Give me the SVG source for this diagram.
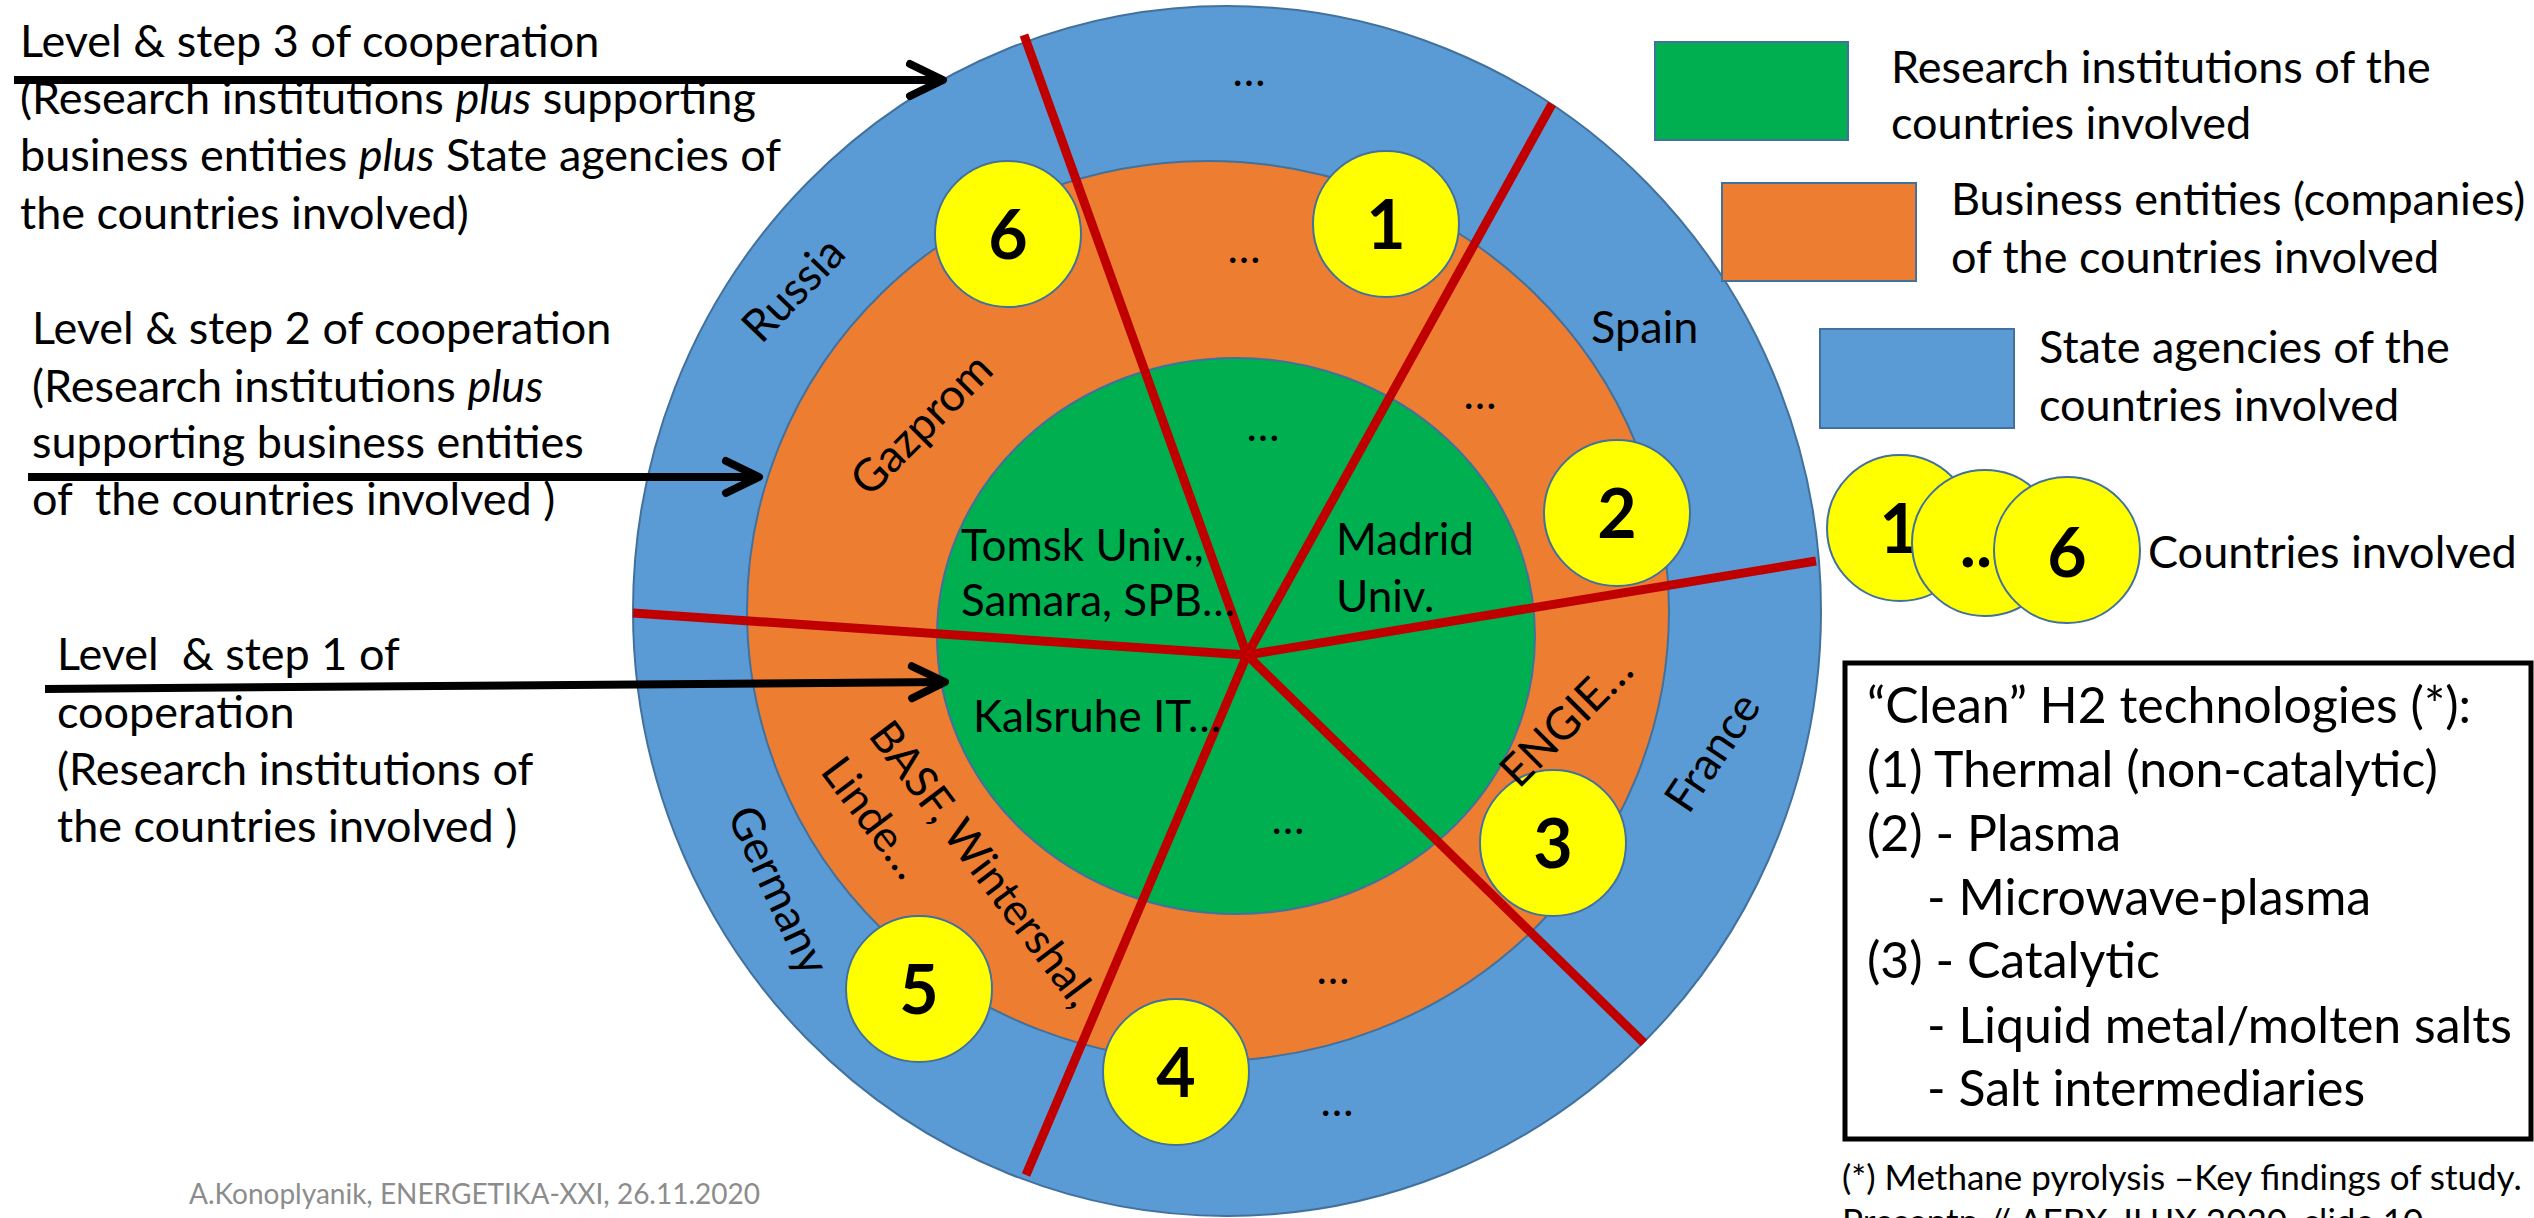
<svg xmlns="http://www.w3.org/2000/svg" width="2534" height="1218" viewBox="0 0 2534 1218">
<defs>
<style>
text{font-family:Lato,"Liberation Sans",sans-serif;fill:#000;white-space:pre}
.t{font-size:45px}
.in{font-size:44px}
.box{font-size:50px}
.dig{font-size:68px;font-weight:bold;text-anchor:middle}
.dots{font-size:44px;text-anchor:middle}
.ring{stroke:#41719C;stroke-width:2}
.yc{fill:#FFFF00;stroke:#41719C;stroke-width:2}
.red{stroke:#C00000;stroke-width:9;fill:none}
.arr{stroke:#000;stroke-width:8;fill:none;marker-end:url(#chev)}
</style>
<marker id="chev" markerUnits="userSpaceOnUse" viewBox="-40 -22 46 44" refX="0" refY="0" markerWidth="46" markerHeight="44" orient="auto">
<path d="M-33,-16 L0,0 L-33,16" fill="none" stroke="#000" stroke-width="8" stroke-linecap="round" stroke-linejoin="round"/>
</marker>
</defs>
<rect width="2534" height="1218" fill="#fff"/>

<g id="ring-state">
<ellipse class="ring" cx="1227" cy="611" rx="594" ry="605" fill="#5B9BD5"/>
</g>
<g id="ring-business">
<ellipse class="ring" cx="1208" cy="611" rx="461" ry="450" fill="#ED7D31"/>
</g>
<g id="ring-research">
<ellipse class="ring" cx="1236" cy="636" rx="299" ry="278" fill="#00B050"/>
</g>

<g id="dividers">
<line class="red" x1="1247" y1="655" x2="1024" y2="35"/>
<line class="red" x1="1247" y1="655" x2="1552" y2="104"/>
<line class="red" x1="1247" y1="655" x2="1816" y2="561"/>
<line class="red" x1="1247" y1="655" x2="633" y2="613"/>
<line class="red" x1="1247" y1="655" x2="1026" y2="1175"/>
<line class="red" x1="1247" y1="655" x2="1644" y2="1043"/>
</g>

<g id="country-6"><circle class="yc" cx="1008" cy="234" r="73"/><text class="dig" x="1008" y="259">6</text></g>
<g id="country-1"><circle class="yc" cx="1386" cy="224" r="73"/><text class="dig" x="1386" y="249">1</text></g>
<g id="country-2"><circle class="yc" cx="1617" cy="513" r="73"/><text class="dig" x="1617" y="538">2</text></g>
<g id="country-3"><circle class="yc" cx="1553" cy="843" r="73"/><text class="dig" x="1553" y="868">3</text></g>
<g id="country-4"><circle class="yc" cx="1176" cy="1072" r="73"/><text class="dig" x="1176" y="1097">4</text></g>
<g id="country-5"><circle class="yc" cx="919" cy="989" r="73"/><text class="dig" x="919" y="1014">5</text></g>

<g id="ring-labels">
<text class="t" text-anchor="middle" transform="translate(793,289) rotate(-46)" y="16">Russia</text>
<text class="t" text-anchor="middle" transform="translate(921,424) rotate(-45)" y="16">Gazprom</text>
<text class="t" x="1591" y="343">Spain</text>
<text class="t" text-anchor="middle" transform="translate(1712,752) rotate(-56)" y="16">France</text>
<text class="t" text-anchor="middle" transform="translate(1566,720) rotate(-45)" y="16">ENGIE…</text>
<text class="t" text-anchor="middle" transform="translate(779,890) rotate(65)" y="16">Germany</text>
<g transform="translate(975,852) rotate(53)">
<text class="in" x="-158" y="16">BASF, Wintershal,</text>
<text class="in" x="-158" y="76">Linde…</text>
</g>
<text class="in" x="961" y="561">Tomsk Univ.,</text>
<text class="in" x="961" y="616">Samara, SPB…</text>
<text class="in" x="1336" y="555">Madrid</text>
<text class="in" x="1336" y="612">Univ.</text>
<text class="in" x="973" y="732">Kalsruhe IT…</text>
<text class="dots" x="1249" y="86">…</text>
<text class="dots" x="1244" y="263">…</text>
<text class="dots" x="1480" y="409">…</text>
<text class="dots" x="1263" y="441">…</text>
<text class="dots" x="1288" y="834">…</text>
<text class="dots" x="1333" y="984">…</text>
<text class="dots" x="1337" y="1116">…</text>
</g>

<g id="connectors">
<line class="arr" x1="14" y1="80" x2="943" y2="80"/>
<line class="arr" x1="28" y1="477" x2="759" y2="477"/>
<line class="arr" x1="45" y1="689" x2="945" y2="682"/>
</g>

<g id="level-3">
<text class="t" x="20" y="57">Level &amp; step 3 of cooperation</text>
<text class="t" x="20" y="114">(Research institutions <tspan font-style="italic">plus</tspan> supporting</text>
<text class="t" x="20" y="171">business entities <tspan font-style="italic">plus</tspan> State agencies of</text>
<text class="t" x="20" y="229">the countries involved)</text>
</g>
<g id="level-2">
<text class="t" x="32" y="344">Level &amp; step 2 of cooperation</text>
<text class="t" x="32" y="402">(Research institutions <tspan font-style="italic">plus</tspan></text>
<text class="t" x="32" y="458">supporting business entities</text>
<text class="t" x="32" y="515">of  the countries involved )</text>
</g>
<g id="level-1">
<text class="t" x="57" y="670">Level  &amp; step 1 of</text>
<text class="t" x="57" y="728">cooperation</text>
<text class="t" x="57" y="785">(Research institutions of</text>
<text class="t" x="57" y="842">the countries involved )</text>
</g>

<g id="legend-research">
<rect x="1655" y="42" width="193" height="98" fill="#00B050" class="ring"/>
<text class="t" x="1891" y="83">Research institutions of the</text>
<text class="t" x="1891" y="139">countries involved</text>
</g>
<g id="legend-business">
<rect x="1722" y="183" width="194" height="98" fill="#ED7D31" class="ring"/>
<text class="t" x="1951" y="215">Business entities (companies)</text>
<text class="t" x="1951" y="273">of the countries involved</text>
</g>
<g id="legend-state">
<rect x="1820" y="329" width="194" height="99" fill="#5B9BD5" class="ring"/>
<text class="t" x="2039" y="363">State agencies of the</text>
<text class="t" x="2039" y="421">countries involved</text>
</g>
<g id="legend-countries">
<circle class="yc" cx="1900" cy="528" r="73"/><text class="dig" x="1899" y="553">1</text>
<circle class="yc" cx="1985" cy="543" r="73"/><text class="dig" x="1976" y="567">..</text>
<circle class="yc" cx="2067" cy="550" r="73"/><text class="dig" x="2067" y="577">6</text>
<text class="t" x="2148" y="568">Countries involved</text>
</g>

<g id="tech-box">
<rect x="1845" y="663" width="686" height="476" fill="none" stroke="#000" stroke-width="5"/>
<text class="box" x="1867" y="723">“Clean” H2 technologies (*):</text>
<text class="box" x="1867" y="787">(1) Thermal (non-catalytic)</text>
<text class="box" x="1867" y="851">(2) - Plasma</text>
<text class="box" x="1927" y="915">- Microwave-plasma</text>
<text class="box" x="1867" y="978">(3) - Catalytic</text>
<text class="box" x="1927" y="1043">- Liquid metal/molten salts</text>
<text class="box" x="1927" y="1106">- Salt intermediaries</text>
</g>

<g id="notes">
<text x="1842" y="1190" font-size="35">(*) Methane pyrolysis –Key findings of study.</text>
<text x="1842" y="1234" font-size="35">Presentn // AEBX-JHJX 2020, slide 10</text>
<text x="189" y="1204" font-size="28" style="fill:#8C8C8C">A.Konoplyanik, ENERGETIKA-XXI, 26.11.2020</text>
</g>
</svg>
